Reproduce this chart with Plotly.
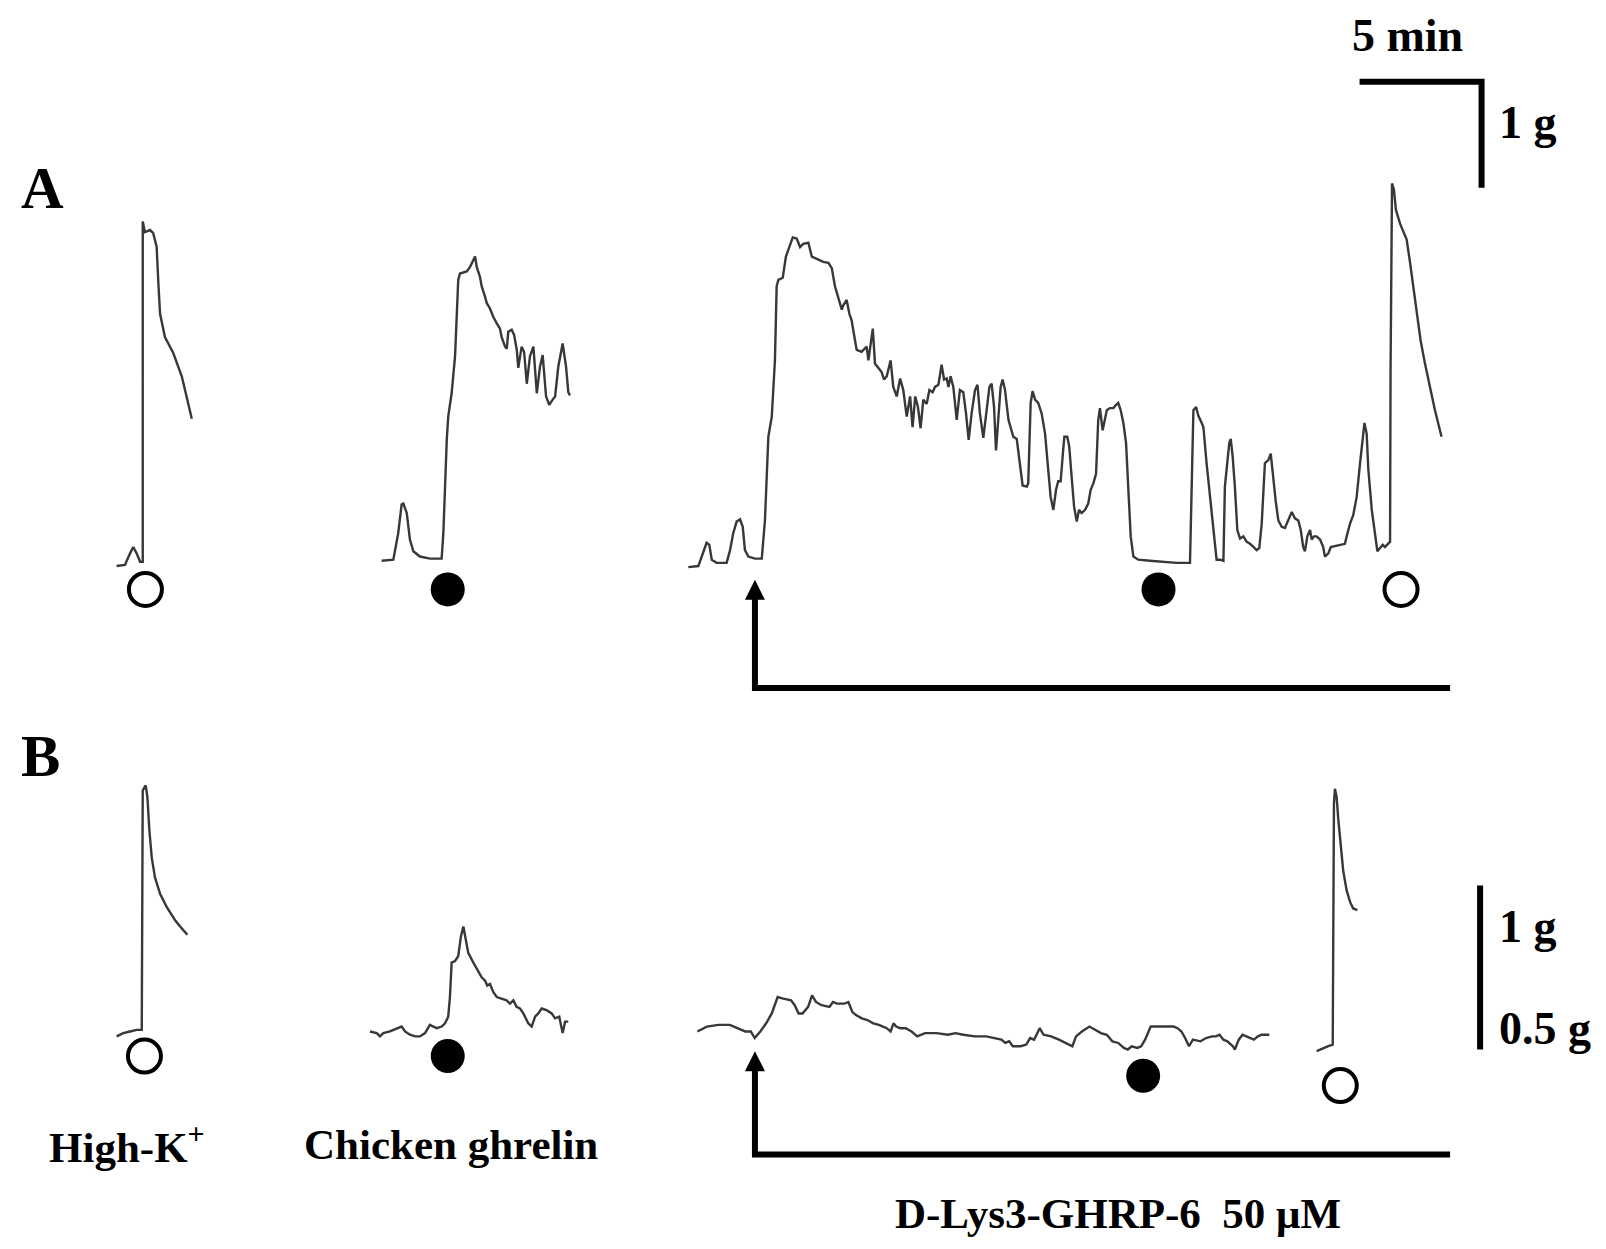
import plotly.graph_objects as go

# ---------------- data (time in min, tension in g) ----------------
# Panel A
A_HIGHK_T = [4.78, 5.12, 5.33, 5.46, 5.60, 5.74, 5.85, 5.85, 5.94, 6.15, 6.28, 6.42, 6.49, 6.56, 6.76, 7.10, 7.45, 7.86]
A_HIGHK_G = [-0.01, 0.00, 0.11, 0.17, 0.11, 0.03, 0.03, 3.24, 3.14, 3.16, 3.13, 3.00, 2.66, 2.37, 2.15, 2.00, 1.78, 1.38]

A_GHRELIN_T = [15.64, 16.12, 16.32, 16.46, 16.53, 16.67, 16.80, 16.94, 17.21, 17.62,
               18.10, 18.17, 18.31, 18.37, 18.51, 18.65, 18.78, 18.85, 19.13, 19.26,
               19.47, 19.54, 19.67, 19.74, 19.88, 19.95, 20.08, 20.22, 20.36, 20.49,
               20.56, 20.70, 20.77, 20.83, 20.97, 21.07, 21.18, 21.24, 21.38, 21.48,
               21.59, 21.72, 21.86, 22.00, 22.13, 22.24, 22.38, 22.51, 22.65, 22.75,
               22.88, 23.06, 23.20, 23.29, 23.36]
A_GHRELIN_G = [0.04, 0.05, 0.30, 0.57, 0.58, 0.49, 0.24, 0.13, 0.08, 0.06,
               0.06, 0.30, 1.18, 1.40, 1.62, 1.97, 2.69, 2.75, 2.77, 2.81,
               2.91, 2.81, 2.72, 2.63, 2.53, 2.47, 2.42, 2.34, 2.28, 2.23,
               2.15, 2.06, 2.04, 2.20, 2.22, 2.17, 2.03, 1.86, 2.06, 2.01,
               1.71, 1.97, 2.06, 1.62, 1.87, 1.98, 1.59, 1.51, 1.56, 1.59,
               1.87, 2.09, 1.87, 1.63, 1.60]

A_DLYS_T = [28.21, 28.62, 28.76, 28.96, 29.07, 29.17, 29.37, 29.78, 29.92, 30.05,
            30.19, 30.33, 30.44, 30.53, 30.67, 30.94, 31.22, 31.35, 31.49, 31.63,
            31.76, 31.83, 31.90, 32.08, 32.21, 32.38, 32.49, 32.65, 32.79, 32.92,
            33.13, 33.27, 33.47, 33.74, 33.95, 34.09, 34.22, 34.36, 34.50, 34.56,
            34.70, 34.81, 34.90, 35.04, 35.11, 35.31, 35.52, 35.59, 35.77, 35.86,
            36.00, 36.13, 36.23, 36.34, 36.50, 36.61, 36.75, 36.89, 37.02, 37.16,
            37.30, 37.40, 37.51, 37.62, 37.73, 37.84, 37.98, 38.09, 38.22, 38.32,
            38.46, 38.59, 38.69, 38.80, 38.87, 38.96, 39.07, 39.21, 39.34, 39.48,
            39.59, 39.70, 39.82, 39.96, 40.06, 40.16, 40.30, 40.44, 40.55, 40.64,
            40.74, 40.82, 40.92, 41.01, 41.09, 41.19, 41.33,
            41.53, 41.67, 41.80, 41.91, 42.08, 42.14, 42.24, 42.32, 42.42, 42.55,
            42.69, 42.83, 42.96, 43.06, 43.17, 43.28, 43.37, 43.47, 43.55, 43.62,
            43.74, 43.82, 43.92, 44.02, 44.13, 44.22, 44.33, 44.47, 44.60, 44.70,
            44.81, 44.92, 45.01, 45.08, 45.19, 45.26, 45.36, 45.49, 45.63, 45.74,
            45.83, 45.93, 46.04, 46.15, 46.24, 46.34, 46.45, 46.65, 47.13, 48.22,
            48.77, 48.84, 48.91, 49.02, 49.11, 49.25, 49.32, 49.45, 49.59, 49.73,
            49.86, 50.00, 50.14, 50.20, 50.27, 50.38, 50.44, 50.52, 50.61, 50.71,
            50.82, 50.96, 51.09, 51.23, 51.37, 51.50, 51.61, 51.71, 51.84, 51.98,
            52.08, 52.19, 52.28, 52.39, 52.53, 52.66, 52.80, 52.94, 53.07, 53.21,
            53.31, 53.41, 53.48, 53.58, 53.69, 53.76, 53.85, 53.96, 54.10, 54.23,
            54.30, 54.44, 54.54, 54.71, 54.92, 55.12, 55.19, 55.33, 55.46, 55.60,
            55.74, 55.85, 55.92, 56.01, 56.08, 56.22, 56.35, 56.45, 56.56, 56.67,
            56.76, 56.86, 56.97, 56.99, 57.05, 57.13, 57.21, 57.38, 57.51, 57.65,
            57.79, 57.92, 58.06, 58.22, 58.40, 58.61, 58.81, 59.08]
A_DLYS_G = [-0.02, -0.01, 0.08, 0.21, 0.19, 0.05, 0.02, 0.02, 0.14, 0.30,
            0.41, 0.43, 0.36, 0.14, 0.08, 0.06, 0.06, 0.42, 1.21, 1.40,
            1.93, 2.63, 2.69, 2.71, 2.91, 3.03, 3.09, 3.08, 3.00, 3.03,
            3.04, 2.91, 2.89, 2.86, 2.85, 2.80, 2.63, 2.52, 2.41, 2.45,
            2.50, 2.37, 2.31, 2.12, 2.03, 2.01, 2.06, 1.93, 2.23, 1.90,
            1.86, 1.82, 1.75, 1.78, 1.93, 1.68, 1.59, 1.76, 1.65, 1.40,
            1.59, 1.30, 1.59, 1.49, 1.29, 1.56, 1.52, 1.65, 1.63, 1.68,
            1.70, 1.89, 1.75, 1.76, 1.68, 1.78, 1.68, 1.37, 1.65, 1.63,
            1.43, 1.18, 1.43, 1.65, 1.70, 1.43, 1.20, 1.46, 1.68, 1.71,
            1.49, 1.08, 1.37, 1.68, 1.75, 1.65, 1.37,
            1.21, 1.19, 0.96, 0.75, 0.74, 0.77, 1.53, 1.64, 1.56, 1.53,
            1.43, 1.24, 0.90, 0.64, 0.52, 0.71, 0.79, 0.79, 1.02, 1.21,
            1.21, 1.12, 0.83, 0.55, 0.41, 0.52, 0.49, 0.52, 0.58, 0.71,
            0.77, 0.86, 1.37, 1.48, 1.27, 1.34, 1.46, 1.48, 1.48, 1.51,
            1.53, 1.46, 1.34, 1.15, 0.74, 0.27, 0.08, 0.05, 0.04, 0.02,
            0.02, 0.90, 1.46, 1.49, 1.41, 1.34, 1.30, 0.96, 0.64, 0.39,
            0.05, 0.05, 0.04, 0.74, 0.90, 1.15, 1.19, 1.02, 0.74, 0.33,
            0.25, 0.27, 0.22, 0.20, 0.17, 0.14, 0.16, 0.39, 0.96, 0.99,
            1.05, 0.80, 0.61, 0.42, 0.36, 0.35, 0.42, 0.50, 0.44, 0.42,
            0.33, 0.17, 0.13, 0.27, 0.33, 0.24, 0.27, 0.27, 0.24, 0.17,
            0.08, 0.11, 0.17, 0.18, 0.19, 0.20, 0.27, 0.39, 0.47, 0.64,
            0.96, 1.24, 1.34, 1.24, 0.90, 0.52, 0.27, 0.13, 0.16, 0.19,
            0.17, 0.19, 0.22, 1.84, 3.60, 3.54, 3.35, 3.22, 3.14, 3.07,
            2.85, 2.63, 2.37, 2.12, 1.90, 1.68, 1.46, 1.21]

# Panel B
B_HIGHK_T = [4.78, 5.05, 5.33, 5.60, 5.81, 5.85, 5.97, 6.04, 6.12, 6.22, 6.35, 6.56, 6.83, 7.17, 7.44, 7.68]
B_HIGHK_G = [-0.10, -0.08, -0.07, -0.06, -0.06, 1.40, 1.43, 1.36, 1.16, 0.99, 0.87, 0.77, 0.69, 0.61, 0.56, 0.52]

B_GHRELIN_T = [15.16, 15.44, 15.57, 15.71, 15.98, 16.26, 16.46, 16.60, 16.80, 17.01,
               17.21, 17.42, 17.62, 17.76, 17.90, 18.10, 18.24, 18.37, 18.44, 18.51,
               18.65, 18.78, 18.89, 18.99, 19.06, 19.19, 19.40, 19.60, 19.74, 19.88,
               19.97, 20.08, 20.22, 20.36, 20.56, 20.76, 20.90, 21.04, 21.17, 21.31,
               21.45, 21.65, 21.79, 21.93, 22.06, 22.20, 22.40, 22.61, 22.75, 22.92,
               23.06, 23.16, 23.29]
B_GHRELIN_G = [-0.07, -0.08, -0.10, -0.08, -0.07, -0.05, -0.04, -0.07, -0.09, -0.10,
               -0.10, -0.08, -0.03, -0.04, -0.05, -0.04, -0.02, 0.02, 0.14, 0.35,
               0.36, 0.39, 0.51, 0.57, 0.51, 0.41, 0.35, 0.30, 0.26, 0.24,
               0.21, 0.22, 0.17, 0.14, 0.13, 0.12, 0.10, 0.12, 0.08, 0.07,
               0.04, -0.02, -0.04, 0.02, 0.04, 0.07, 0.06, 0.04, 0.01, 0.02,
               -0.08, -0.01, -0.01]

B_DLYS_T = [28.58, 28.97, 29.44, 29.91, 30.22, 30.54, 30.77, 30.93, 31.16, 31.40,
            31.63, 31.87, 32.10, 32.42, 32.57, 32.73, 32.89, 33.12, 33.28, 33.44,
            33.67, 33.99, 34.14, 34.30, 34.61, 34.77, 34.93, 35.08, 35.32, 35.55,
            35.79, 36.02, 36.34, 36.50, 36.62, 36.73, 36.89, 37.12, 37.36, 37.59,
            37.91, 38.38, 38.85, 39.16, 39.48, 39.95, 40.42, 40.73, 41.04, 41.20,
            41.36, 41.51, 41.83, 42.06, 42.22, 42.38, 42.53, 42.61, 42.77, 43.08,
            43.40, 43.71, 43.95, 44.10, 44.34, 44.65, 44.89, 45.12, 45.36, 45.59,
            45.83, 46.06, 46.22, 46.38, 46.61, 46.77, 46.93, 47.16, 47.47, 47.79,
            48.10, 48.26, 48.42, 48.57, 48.73, 48.89, 49.20, 49.43, 49.67, 49.83,
            49.98, 50.14, 50.30, 50.53, 50.61, 50.77, 50.92, 51.08, 51.24, 51.39,
            51.55, 51.71, 51.87, 52.02]
B_DLYS_G = [-0.07, -0.04, -0.03, -0.03, -0.05, -0.07, -0.07, -0.11, -0.07, -0.02,
            0.04, 0.14, 0.13, 0.12, 0.09, 0.04, 0.04, 0.08, 0.15, 0.11,
            0.09, 0.08, 0.11, 0.10, 0.10, 0.11, 0.05, 0.03, 0.01, 0.00,
            -0.02, -0.03, -0.05, -0.07, -0.02, -0.04, -0.05, -0.05, -0.07, -0.10,
            -0.08, -0.08, -0.09, -0.08, -0.09, -0.10, -0.10, -0.11, -0.12, -0.14,
            -0.13, -0.16, -0.16, -0.15, -0.11, -0.12, -0.07, -0.05, -0.09, -0.10,
            -0.12, -0.14, -0.16, -0.10, -0.07, -0.04, -0.06, -0.08, -0.09, -0.13,
            -0.14, -0.17, -0.18, -0.16, -0.17, -0.16, -0.12, -0.04, -0.04, -0.04,
            -0.04, -0.05, -0.07, -0.11, -0.16, -0.12, -0.13, -0.11, -0.10, -0.10,
            -0.09, -0.12, -0.13, -0.16, -0.18, -0.12, -0.09, -0.10, -0.11, -0.12,
            -0.10, -0.09, -0.09, -0.09]

B_HIGHK2_T = [53.96, 54.24, 54.44, 54.62, 54.64, 54.67, 54.71, 54.78, 54.85, 54.95, 55.05, 55.19, 55.33, 55.46, 55.63]
B_HIGHK2_G = [-0.19, -0.17, -0.16, -0.15, 0.53, 1.32, 1.41, 1.36, 1.22, 1.06, 0.91, 0.79, 0.72, 0.68, 0.67]

# Application markers (time, level): open = High-K+, filled = chicken ghrelin
A_OPEN_T, A_OPEN_G = [5.96, 57.42], [-0.23, -0.23]
A_FILLED_T, A_FILLED_G = [18.35, 47.48], [-0.23, -0.23]
B_OPEN_T, B_OPEN_G = [5.92, 54.93], [-0.22, -0.40]
B_FILLED_T, B_FILLED_G = [18.35, 46.85], [-0.22, -0.34]

# D-Lys3-GHRP-6 application period
DRUG_START_MIN = 30.94
DRUG_END_MIN = 59.43
A_BRACKET_G = [-0.14, -1.16]   # arrow tip, bracket base
B_BRACKET_G = [-0.19, -0.82]

# Scale bars
SCALE_TIME_MIN = 5
SCALE_TENSION_G = 1
A_SCALE_CORNER = (60.72, 4.56)
B_SCALE_TOP = (60.66, 0.82)

LABELS_BOTTOM = ["High-K<sup>+</sup>", "Chicken ghrelin", "D-Lys3-GHRP-6&nbsp; 50 \u03bcM"]

for a, b in [(A_HIGHK_T, A_HIGHK_G), (A_GHRELIN_T, A_GHRELIN_G), (A_DLYS_T, A_DLYS_G),
             (B_HIGHK_T, B_HIGHK_G), (B_GHRELIN_T, B_GHRELIN_G), (B_DLYS_T, B_DLYS_G),
             (B_HIGHK2_T, B_HIGHK2_G)]:
    assert len(a) == len(b), (len(a), len(b))

# ---------------- layout geometry ----------------
W, H = 1606, 1249
OFFSET = 8            # page body margin in the browser
PX_PER_MIN = 24.4
A_PX_PER_G, A_ZERO_PX = 106.0, 565.0
B_PX_PER_G, B_ZERO_PX = 164.0, 1020.0

x_range = [OFFSET / PX_PER_MIN, (W + OFFSET) / PX_PER_MIN]
yA_range = [(A_ZERO_PX - OFFSET - H) / A_PX_PER_G, (A_ZERO_PX - OFFSET) / A_PX_PER_G]
yB_range = [(B_ZERO_PX - OFFSET - H) / B_PX_PER_G, (B_ZERO_PX - OFFSET) / B_PX_PER_G]

TRACE_COLOR = "#383838"
FONT = "Liberation Serif, Times New Roman, serif"

fig = go.Figure()


def trace(t, g, yaxis):
    fig.add_trace(go.Scatter(x=t, y=g, yaxis=yaxis, mode="lines",
                             line=dict(color=TRACE_COLOR, width=2.4), hoverinfo="skip"))


trace(A_HIGHK_T, A_HIGHK_G, "y")
trace(A_GHRELIN_T, A_GHRELIN_G, "y")
trace(A_DLYS_T, A_DLYS_G, "y")
trace(B_HIGHK_T, B_HIGHK_G, "y2")
trace(B_GHRELIN_T, B_GHRELIN_G, "y2")
trace(B_DLYS_T, B_DLYS_G, "y2")
trace(B_HIGHK2_T, B_HIGHK2_G, "y2")


def circles(t, g, yaxis, filled):
    fig.add_trace(go.Scatter(
        x=t, y=g, yaxis=yaxis, mode="markers", hoverinfo="skip",
        marker=dict(symbol="circle" if filled else "circle-open",
                    size=34 if filled else 33, color="black",
                    line=dict(color="black", width=0 if filled else 4))))


circles(A_OPEN_T, A_OPEN_G, "y", False)
circles(A_FILLED_T, A_FILLED_G, "y", True)
circles(B_OPEN_T, B_OPEN_G, "y2", False)
circles(B_FILLED_T, B_FILLED_G, "y2", True)


def bracket(gs, yaxis):
    tip, base = gs
    fig.add_trace(go.Scatter(
        x=[DRUG_START_MIN, DRUG_START_MIN, DRUG_END_MIN],
        y=[tip - 0.08, base, base], yaxis=yaxis, mode="lines", hoverinfo="skip",
        line=dict(color="black", width=6)))
    fig.add_trace(go.Scatter(
        x=[DRUG_START_MIN], y=[tip], yaxis=yaxis, mode="markers", hoverinfo="skip",
        marker=dict(symbol="arrow-up", size=20, color="black", line=dict(width=0))))


bracket(A_BRACKET_G, "y")
bracket(B_BRACKET_G, "y2")

# scale bars
ct, cg = A_SCALE_CORNER
fig.add_trace(go.Scatter(x=[ct - SCALE_TIME_MIN, ct, ct], y=[cg, cg, cg - SCALE_TENSION_G],
                         yaxis="y", mode="lines", hoverinfo="skip",
                         line=dict(color="black", width=6)))
bt, bg = B_SCALE_TOP
fig.add_trace(go.Scatter(x=[bt, bt], y=[bg, bg - SCALE_TENSION_G], yaxis="y2",
                         mode="lines", hoverinfo="skip", line=dict(color="black", width=6)))


def label(text, px, py, size, xanchor="center"):
    fig.add_annotation(text=text, x=(px - OFFSET) / W, y=1 - (py - OFFSET) / H,
                       xref="paper", yref="paper", xanchor=xanchor, yanchor="middle",
                       showarrow=False,
                       font=dict(family=FONT, size=size, color="black", weight="bold"))


label("A", 42, 188, 59)
label("B", 40, 756, 59)
label("%d min" % SCALE_TIME_MIN, 1407, 36, 46)
label("%d g" % SCALE_TENSION_G, 1497, 122, 46, "left")
label("1 g", 1497, 926, 46, "left")
label("0.5 g", 1497, 1028, 46, "left")
label(LABELS_BOTTOM[0], 127, 1144, 43)
label(LABELS_BOTTOM[1], 451, 1144, 43)
label(LABELS_BOTTOM[2], 1118, 1213, 43)

fig.update_layout(
    width=W, height=H, margin=dict(l=0, r=0, t=0, b=0),
    paper_bgcolor="white", plot_bgcolor="white", showlegend=False,
    xaxis=dict(range=x_range, visible=False, domain=[0, 1]),
    yaxis=dict(range=yA_range, visible=False, domain=[0, 1]),
    yaxis2=dict(range=yB_range, visible=False, overlaying="y"),
)

fig.write_html("out.html")
